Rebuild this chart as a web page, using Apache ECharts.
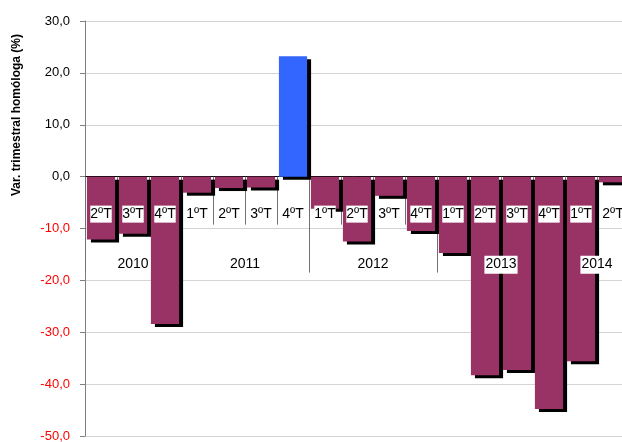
<!DOCTYPE html>
<html>
<head>
<meta charset="utf-8">
<script src="https://cdn.jsdelivr.net/npm/echarts@6/dist/echarts.min.js"></script>
<style>
  html, body { margin: 0; padding: 0; background: #fff; }
  #chart { width: 622px; height: 442px; }
</style>
</head>
<body>
<div id="chart"></div>
<script>
// datos del gráfico
var quarters = ['2ºT', '3ºT', '4ºT', '1ºT', '2ºT', '3ºT', '4ºT', '1ºT', '2ºT', '3ºT', '4ºT', '1ºT', '2ºT', '3ºT', '4ºT', '1ºT', '2ºT'];
var years = ['2010', '2011', '2012', '2013', '2014'];
var quartersPerYear = [3, 4, 4, 4, 2];
var values = [-12.1, -11.0, -28.4, -3.1, -2.2, -2.1, 23.2, -6.2, -12.5, -3.7, -10.5, -14.7, -38.3, -37.3, -44.8, -35.6, -1.1];
var highlightIndex = 6;
var yMin = -50, yMax = 30;

// límites y centros de cada año sobre el eje de categorías
var yearBounds = [];
var yearCenters = [];
var start = 0;
quartersPerYear.forEach(function (n) {
    yearBounds.push(start);
    yearCenters.push(start + n / 2);
    start += n;
});

var font = 'Liberation Sans, Arial, sans-serif';
var gridTop = 21, gridBottom = 6, chartHeight = 442;
// desplazamiento de los ejes auxiliares hasta la línea del cero
var zeroOffset = -(chartHeight - gridTop - gridBottom) * (0 - yMin) / (yMax - yMin);

var myChart = echarts.init(document.getElementById('chart'));

myChart.setOption({
    animation: false,
    grid: { left: 85, right: -7, top: gridTop, bottom: gridBottom, outerBoundsMode: 'none' },
    graphic: [{
        type: 'text',
        x: 17,
        y: 115,
        rotation: Math.PI / 2,
        style: {
            text: 'Var. trimestral homóloga (%)',
            font: 'bold 12px ' + font,
            fill: '#000',
            align: 'center',
            verticalAlign: 'middle'
        }
    }],
    xAxis: [
        {
            // eje principal: línea en cero y marcas cortas
            type: 'category',
            data: quarters,
            position: 'bottom',
            z: 0,
            axisLine: { onZero: true, lineStyle: { color: '#000', width: 1 } },
            axisTick: { show: true, interval: 0, length: 48, lineStyle: { color: '#707070' } },
            axisLabel: { show: false },
            splitLine: { show: false }
        },
        {
            // etiquetas de trimestre
            type: 'category',
            data: quarters,
            position: 'bottom',
            offset: zeroOffset,
            z: 6,
            axisLine: { show: false, onZero: false },
            axisTick: { show: false },
            axisLabel: {
                interval: 0,
                margin: 29,
                color: '#000',
                fontFamily: font,
                fontSize: 14,
                backgroundColor: '#fff',
                padding: [2, 0, 1, 0]
            }
        },
        {
            // separadores largos entre años
            type: 'value',
            min: 0,
            max: quarters.length,
            position: 'bottom',
            offset: zeroOffset,
            z: 0,
            axisLine: { show: false, onZero: false },
            axisTick: { show: true, customValues: yearBounds, length: 96, lineStyle: { color: '#707070' } },
            axisLabel: { show: false },
            splitLine: { show: false }
        },
        {
            // etiquetas de año
            type: 'value',
            min: 0,
            max: quarters.length,
            position: 'bottom',
            offset: zeroOffset,
            z: 6,
            axisLine: { show: false, onZero: false },
            axisTick: { show: false },
            axisLabel: {
                customValues: yearCenters,
                margin: 79,
                color: '#000',
                fontFamily: font,
                fontSize: 14,
                backgroundColor: '#fff',
                padding: [2, 1, 2, 1],
                formatter: function (v) {
                    return years[yearCenters.indexOf(v)];
                }
            },
            splitLine: { show: false }
        }
    ],
    yAxis: {
        type: 'value',
        min: yMin,
        max: yMax,
        interval: 10,
        axisLine: { show: true, lineStyle: { color: '#808080' } },
        axisTick: { show: true, length: 5, lineStyle: { color: '#808080' } },
        axisLabel: {
            margin: 15,
            fontFamily: font,
            fontSize: 13,
            color: function (v) {
                return Number(v) < 0 ? '#ff0000' : '#000';
            },
            formatter: function (v) {
                return v.toFixed(1).replace('.', ',');
            }
        },
        splitLine: { show: true, lineStyle: { color: '#d4d4d4' } }
    },
    series: [{
        type: 'bar',
        xAxisIndex: 0,
        barCategoryGap: '12%',
        data: values.map(function (v, i) {
            return {
                value: v,
                itemStyle: { color: i === highlightIndex ? '#3366ff' : '#993366' }
            };
        }),
        itemStyle: {
            shadowColor: '#000',
            shadowBlur: 0,
            shadowOffsetX: 4,
            shadowOffsetY: 3
        }
    }]
});
</script>
</body>
</html>
